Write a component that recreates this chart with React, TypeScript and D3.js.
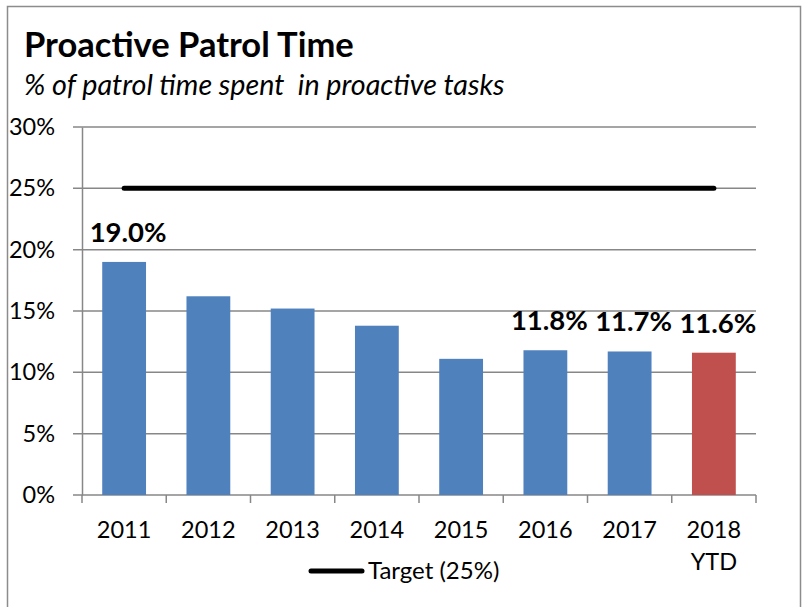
import React, { useRef, useEffect } from "react";
import * as d3 from "d3";

const categories = ["2011", "2012", "2013", "2014", "2015", "2016", "2017", "2018 YTD"];
const values = [19.0, 16.2, 15.2, 13.8, 11.1, 11.8, 11.7, 11.6];
const targetValues = [25, 25, 25, 25, 25, 25, 25, 25];
const labelled = [true, false, false, false, false, true, true, true];
const barColors = ["#4F81BD", "#4F81BD", "#4F81BD", "#4F81BD", "#4F81BD", "#4F81BD", "#4F81BD", "#C0504D"];
const yTicks = [0, 5, 10, 15, 20, 25, 30];

const title = "Proactive Patrol Time";
const subtitle = "% of patrol time spent  in proactive tasks";
const legendLabel = "Target (25%)";

const App = () => {
  const chartRef = useRef<SVGSVGElement>(null);

  const width = 804,
    height = 607,
    marginLeft = 82,
    marginRight = 48,
    plotTop = 127,
    plotBottom = 495;
  const font = "Lato, 'Open Sans', sans-serif";
  const gridColor = "#878787";
  const tickFont = 23.5;

  useEffect(() => {
    if (!chartRef.current) return;
    const svg = d3.select(chartRef.current);
    svg.selectAll("*").remove();

    const x = d3
      .scaleBand<string>()
      .domain(categories)
      .range([marginLeft, width - marginRight])
      .padding(0);
    const y = d3.scaleLinear().domain([0, 30]).range([plotBottom, plotTop]);
    const bw = x.bandwidth();
    const barW = bw * 0.52;

    // outer frame
    svg
      .append("rect")
      .attr("x", 7.5)
      .attr("y", 6.5)
      .attr("width", 793)
      .attr("height", 640)
      .attr("fill", "#fff")
      .attr("stroke", "#8c8c8c")
      .attr("stroke-width", 1.5);

    svg
      .append("text")
      .attr("x", 24)
      .attr("y", 57)
      .attr("font-family", font)
      .attr("font-weight", 700)
      .attr("font-size", 34.5)
      .attr("fill", "#000")
      .text(title);

    svg
      .append("text")
      .attr("x", 24)
      .attr("y", 95)
      .attr("font-family", font)
      .attr("font-style", "italic")
      .attr("font-size", 28.7)
      .attr("fill", "#000")
      .style("white-space", "pre")
      .text(subtitle);

    // gridlines
    svg
      .append("g")
      .selectAll("line")
      .data(yTicks)
      .join("line")
      .attr("x1", marginLeft - 9)
      .attr("x2", width - marginRight)
      .attr("y1", (d) => y(d))
      .attr("y2", (d) => y(d))
      .attr("stroke", gridColor)
      .attr("stroke-width", 1.5);

    // y axis
    svg
      .append("g")
      .attr("transform", `translate(${marginLeft},0)`)
      .call(
        d3
          .axisLeft(y)
          .tickValues(yTicks)
          .tickFormat((d) => `${d}%`)
          .tickSizeInner(0)
          .tickSizeOuter(0)
          .tickPadding(27)
      )
      .call((g) => g.select("path").attr("stroke", gridColor).attr("stroke-width", 1.5))
      .call((g) =>
        g
          .selectAll("text")
          .attr("font-family", font)
          .attr("font-size", tickFont)
          .attr("fill", "#000")
      );

    // bars
    svg
      .append("g")
      .selectAll("rect")
      .data(values)
      .join("rect")
      .attr("x", (_, i) => (x(categories[i]) as number) + (bw - barW) / 2)
      .attr("y", (d) => y(d))
      .attr("width", barW)
      .attr("height", (d) => y(0) - y(d))
      .attr("fill", (_, i) => barColors[i]);

    // category ticks at band edges
    const edges = categories.map((c) => x(c) as number).concat([width - marginRight]);
    svg
      .append("g")
      .selectAll("line")
      .data(edges)
      .join("line")
      .attr("x1", (d) => d)
      .attr("x2", (d) => d)
      .attr("y1", plotBottom)
      .attr("y2", plotBottom + 8)
      .attr("stroke", gridColor)
      .attr("stroke-width", 1.5);

    // category labels
    const catText = svg
      .append("g")
      .selectAll("text")
      .data(categories)
      .join("text")
      .attr("x", (d) => (x(d) as number) + bw / 2)
      .attr("y", 538)
      .attr("text-anchor", "middle")
      .attr("font-family", font)
      .attr("font-size", tickFont)
      .attr("fill", "#000");
    catText
      .selectAll("tspan")
      .data((d) => d.split(" ").map((s) => ({ s, c: d })))
      .join("tspan")
      .attr("x", (d) => (x(d.c) as number) + bw / 2)
      .attr("dy", (_, i) => (i === 0 ? 0 : 32))
      .text((d) => d.s);

    // target line
    const line = d3
      .line<number>()
      .x((_, i) => (x(categories[i]) as number) + bw / 2)
      .y((d) => y(d));
    svg
      .append("path")
      .attr("d", line(targetValues))
      .attr("fill", "none")
      .attr("stroke", "#000")
      .attr("stroke-width", 5)
      .attr("stroke-linecap", "round");

    // data labels
    svg
      .append("g")
      .selectAll("text")
      .data(values.map((v, i) => ({ v, i })).filter((d) => labelled[d.i]))
      .join("text")
      .attr("x", (d) => (x(categories[d.i]) as number) + bw / 2 + 4)
      .attr("y", (d) => y(d.v) - 20)
      .attr("text-anchor", "middle")
      .attr("font-family", font)
      .attr("font-weight", 700)
      .attr("font-size", 27.5)
      .attr("fill", "#000")
      .text((d) => `${d.v.toFixed(1)}%`);

    // legend
    const lg = svg.append("g").attr("transform", "translate(309,571)");
    lg.append("line")
      .attr("x1", 2)
      .attr("x2", 53)
      .attr("y1", 0)
      .attr("y2", 0)
      .attr("stroke", "#000")
      .attr("stroke-width", 5)
      .attr("stroke-linecap", "round");
    lg.append("text")
      .attr("x", 59)
      .attr("y", 8)
      .attr("font-family", font)
      .attr("font-size", 24)
      .attr("fill", "#000")
      .text(legendLabel);
  }, []);

  return (
    <svg
      ref={chartRef}
      width={width}
      height={height}
      style={{ position: "absolute", left: 0, top: 0, display: "block" }}
    ></svg>
  );
};

export default App;
